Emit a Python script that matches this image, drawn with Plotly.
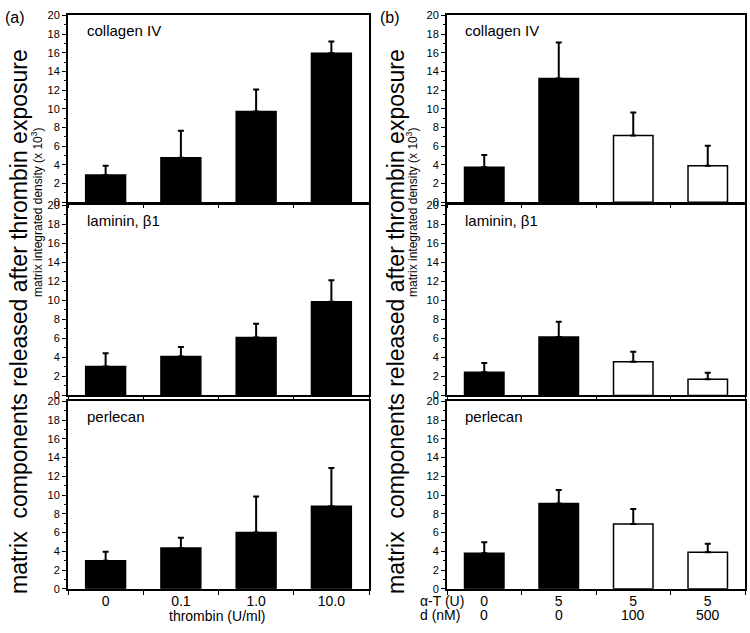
import plotly.graph_objects as go

# panel (a): thrombin dose response
thrombin_doses = ['0', '0.1', '1.0', '10.0']
collagen_a = [2.9, 4.75, 9.7, 15.95]
collagen_a_err = [1.0, 2.9, 2.35, 1.25]
laminin_a = [3.05, 4.1, 6.1, 9.85]
laminin_a_err = [1.4, 1.0, 1.45, 2.25]
perlecan_a = [3.0, 4.35, 6.0, 8.8]
perlecan_a_err = [0.95, 1.1, 3.85, 4.1]

# panel (b): alpha-thrombin (U) / d (nM) combinations
alpha_t = ['0', '5', '5', '5']
d_conc = ['0', '0', '100', '500']
conditions_b = ['c1', 'c2', 'c3', 'c4']
collagen_b = [3.75, 13.25, 7.15, 3.9]
collagen_b_err = [1.3, 3.85, 2.45, 2.15]
laminin_b = [2.45, 6.15, 3.55, 1.7]
laminin_b_err = [0.95, 1.6, 1.05, 0.7]
perlecan_b = [3.8, 9.1, 6.9, 3.9]
perlecan_b_err = [1.15, 1.45, 1.6, 0.9]
fill_b = ['black', 'black', 'white', 'white']

panel_names = ['collagen IV', 'laminin, \u03b21', 'perlecan']

FONT = 'Liberation Sans, Arial, sans-serif'
W, H = 750, 633

# pixel frames of the six plots
x_dom = [[68 / W, 369 / W], [447 / W, 745 / W]]
y_dom = [[1 - 200 / H, 1 - 9.5 / H], [1 - 397 / H, 1 - 203 / H], [1 - 594 / H, 1 - 403 / H]]

fig = go.Figure()

series = [
    (thrombin_doses, collagen_a, collagen_a_err, ['black'] * 4),
    (conditions_b, collagen_b, collagen_b_err, fill_b),
    (thrombin_doses, laminin_a, laminin_a_err, ['black'] * 4),
    (conditions_b, laminin_b, laminin_b_err, fill_b),
    (thrombin_doses, perlecan_a, perlecan_a_err, ['black'] * 4),
    (conditions_b, perlecan_b, perlecan_b_err, fill_b),
]

layout_axes = {}
annotations = []
for i, (cats, vals, errs, fills) in enumerate(series):
    row, col = i // 2, i % 2
    n = i + 1
    xa = 'x' if n == 1 else 'x%d' % n
    ya = 'y' if n == 1 else 'y%d' % n
    fig.add_trace(go.Bar(
        x=cats, y=vals, xaxis=xa, yaxis=ya, width=0.53,
        marker=dict(color=fills, line=dict(color='black', width=1.5)),
        error_y=dict(type='data', array=errs, arrayminus=[0] * len(errs), symmetric=False,
                     color='black', thickness=2, width=3),
        showlegend=False,
    ))
    bottom = row == 2
    ticktext = alpha_t if col == 1 else cats
    layout_axes['xaxis' if n == 1 else 'xaxis%d' % n] = dict(
        domain=x_dom[col], anchor=ya, type='category', range=[-0.5, 3.5],
        categoryorder='array', categoryarray=cats,
        tickmode='array', tickvals=cats, ticktext=ticktext,
        showticklabels=bottom, tickson='boundaries',
        ticks='outside', ticklen=4, tickcolor='black', ticklabelstandoff=-2,
        showline=True, linecolor='black', linewidth=2, mirror=True,
        showgrid=False, zeroline=False,
        tickfont=dict(family=FONT, size=14, color='black'),
    )
    layout_axes['yaxis' if n == 1 else 'yaxis%d' % n] = dict(
        domain=y_dom[row], anchor=xa, range=[0, 20], dtick=2, tick0=0,
        ticks='outside', ticklen=4, tickcolor='black',
        minor=dict(ticks='outside', ticklen=2, dtick=1, tickcolor='black'),
        showline=True, linecolor='black', linewidth=2, mirror=True,
        showgrid=False, zeroline=False,
        tickfont=dict(family=FONT, size=11, color='black'),
    )
    annotations.append(dict(
        text=panel_names[row], xref=xa + ' domain', yref=ya + ' domain',
        x=0.055, y=0.92, xanchor='left', yanchor='middle', showarrow=False,
        font=dict(family=FONT, size=15, color='black'),
    ))

# second row of the (b) x labels: d concentration, under the bottom (b) axis
for cat, dv in zip(conditions_b, d_conc):
    annotations.append(dict(
        text=dv, xref='x6', yref='paper', x=cat, y=1 - 621 / H,
        xanchor='center', yanchor='middle', showarrow=False,
        font=dict(family=FONT, size=14, color='black'),
    ))

for txt, yy in [('\u03b1-T (U)', 606), ('d (nM)', 621)]:
    annotations.append(dict(
        text=txt, xref='paper', yref='paper', x=418 / W, y=1 - yy / H,
        xanchor='left', yanchor='middle', showarrow=False,
        font=dict(family=FONT, size=14, color='black'),
    ))

annotations.append(dict(
    text='thrombin (U/ml)', xref='paper', yref='paper', x=217 / W, y=1 - 622 / H,
    xanchor='center', yanchor='middle', showarrow=False,
    font=dict(family=FONT, size=14, color='black'),
))

for xc in [19, 396]:
    annotations.append(dict(
        text='matrix  components released after thrombin exposure', textangle=-90,
        xref='paper', yref='paper', x=xc / W, y=1 - 322 / H,
        xanchor='center', yanchor='middle', showarrow=False,
        font=dict(family=FONT, size=23, color='black'),
    ))
for xc in [37, 412]:
    annotations.append(dict(
        text='matrix integrated density (x 10<sup>3</sup>)', textangle=-90,
        xref='paper', yref='paper', x=xc / W, y=1 - 211 / H,
        xanchor='center', yanchor='middle', showarrow=False,
        font=dict(family=FONT, size=12, color='black'),
    ))

for txt, xl in [('(a)', 3), ('(b)', 378)]:
    annotations.append(dict(
        text=txt, xref='paper', yref='paper', x=xl / W, y=1 - 12 / H,
        xanchor='left', yanchor='middle', showarrow=False,
        font=dict(family=FONT, size=16, color='black'),
    ))

fig.update_layout(
    width=W, height=H,
    margin=dict(l=0, r=0, t=0, b=0),
    paper_bgcolor='white', plot_bgcolor='white',
    annotations=annotations,
    **layout_axes,
)

# drop the browser's default body margin so the figure fills the window
fig.write_html("out.html", config={'displayModeBar': False},
               post_script="document.body.style.margin='0';")
